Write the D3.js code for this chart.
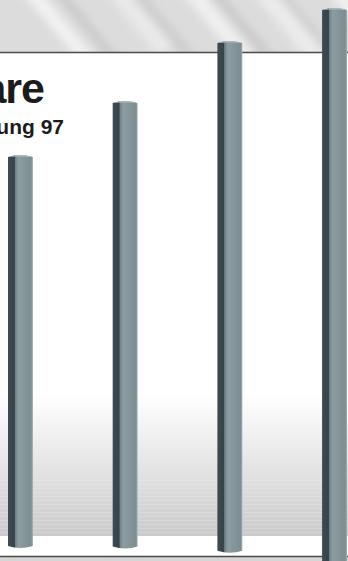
<!DOCTYPE html>
<html lang="de">
<head>
<meta charset="utf-8">
<style>
	body { margin: 0; background: #fff; }
	svg { display: block; }
	text { font-family: "Liberation Sans", Arial, sans-serif; font-weight: bold; fill: #1b1b1b; }
</style>
</head>
<body>
<script src="https://cdnjs.cloudflare.com/ajax/libs/d3/7.8.5/d3.min.js"></script>
<script>
// data (estimates, unit unknown)
var years = ["94", "95", "96", "97"];
var values = [6.55, 7.45, 8.45, 9.0];
var titleText = "Software";
var subText = "Schätzung 97";
var headText = "Umsatz der Branche";

var width = 348, height = 561;
var panelTop = 52, panelBottom = 556;

var svg = d3.select("body").append("svg")
	.attr("width", width)
	.attr("height", height);

var defs = svg.append("defs");

defs.append("filter").attr("id", "soft")
	.attr("x", "-20%").attr("y", "-20%").attr("width", "140%").attr("height", "140%")
	.append("feGaussianBlur").attr("stdDeviation", 4);

var floor = defs.append("linearGradient")
	.attr("id", "floor").attr("x1", 0).attr("y1", 0).attr("x2", 0).attr("y2", 1);
floor.append("stop").attr("offset", "0%").attr("stop-color", "#ffffff");
floor.append("stop").attr("offset", "100%").attr("stop-color", "#cacaca");

var stripes = defs.append("pattern")
	.attr("id", "stripes")
	.attr("patternUnits", "userSpaceOnUse")
	.attr("width", 10).attr("height", 4);
stripes.append("rect").attr("width", 10).attr("height", 1).attr("fill", "#ffffff").attr("opacity", 0.18);

var barGrad = defs.append("linearGradient")
	.attr("id", "bar").attr("x1", 0).attr("y1", 0).attr("x2", 1).attr("y2", 0);
[["0%", "#3e4a51"], ["26%", "#36434a"], ["29%", "#6f8086"], ["42%", "#8c9da2"], ["70%", "#84959a"], ["93%", "#7d8e93"], ["100%", "#a3b0b3"]]
	.forEach(function (s) {
		barGrad.append("stop").attr("offset", s[0]).attr("stop-color", s[1]);
	});

// background: grey brushed metal
svg.append("rect").attr("width", width).attr("height", height).attr("fill", "#dcdcdc");
var streaks = svg.append("g").attr("filter", "url(#soft)");
[[20, -10, 14, "#f2f2f2"], [60, 0, 8, "#c8c8c8"], [95, -20, 18, "#e9e9e9"], [140, 5, 10, "#cccccc"],
 [175, -15, 16, "#efefef"], [215, 0, 9, "#c9c9c9"], [250, -10, 20, "#ebebeb"], [290, 10, 8, "#cdcdcd"],
 [330, -5, 14, "#f0f0f0"], [370, 0, 10, "#cacaca"]]
	.forEach(function (s) {
		streaks.append("rect")
			.attr("x", s[0]).attr("y", s[1] - 40)
			.attr("width", s[2]).attr("height", 140)
			.attr("fill", s[3])
			.attr("transform", "rotate(-40 " + s[0] + " " + s[1] + ")");
	});
svg.append("rect").attr("x", 0).attr("y", panelBottom).attr("width", width).attr("height", height - panelBottom)
	.attr("fill", "#d6d6d6");

// headline, only the foot of the letters reaches into the picture
svg.append("text")
	.attr("x", 40).attr("y", -2)
	.style("font-size", "64px")
	.style("fill", "#222")
	.text(headText);

// white panel
svg.append("rect")
	.attr("x", 0).attr("y", panelTop)
	.attr("width", width).attr("height", panelBottom - panelTop)
	.attr("fill", "#ffffff");

// grey floor band
svg.append("rect")
	.attr("x", 0).attr("y", 395)
	.attr("width", width).attr("height", 141)
	.attr("fill", "url(#floor)");
svg.append("rect")
	.attr("x", 0).attr("y", 480)
	.attr("width", width).attr("height", 56)
	.attr("fill", "url(#stripes)");

svg.append("line")
	.attr("x1", 0).attr("x2", width)
	.attr("y1", panelTop + 0.5).attr("y2", panelTop + 0.5)
	.attr("stroke", "#4a4a4a").attr("stroke-width", 1.5);
svg.append("line")
	.attr("x1", 0).attr("x2", width)
	.attr("y1", panelBottom + 0.5).attr("y2", panelBottom + 0.5)
	.attr("stroke", "#4a4a4a").attr("stroke-width", 1.5);

// title
svg.append("text")
	.attr("x", 44).attr("y", 103)
	.attr("text-anchor", "end")
	.style("font-size", "43px")
	.style("letter-spacing", "-1px")
	.text(titleText);
svg.append("text")
	.attr("x", 64).attr("y", 134)
	.attr("text-anchor", "end")
	.style("font-size", "21px")
	.text(subText);

// scales
var x = d3.scaleBand()
	.domain(years)
	.range([8, 347])
	.paddingInner(0.762)
	.paddingOuter(0);

var y = d3.scaleLinear()
	.domain([0, d3.max(values)])
	.range([548, 8]);

// pillars, bottoms drop a little towards the right (perspective)
function pillar(d, i) {
	var x0 = x(years[i]), w = x.bandwidth();
	var top = y(d), bot = y(0) + Math.pow(i, 3) * 0.6;
	return "M" + x0 + "," + (top + 2) +
		"Q" + (x0 + w / 2) + "," + (top - 2) + " " + (x0 + w) + "," + (top + 2) +
		"L" + (x0 + w) + "," + (bot - 2) +
		"Q" + (x0 + w / 2) + "," + (bot + 2) + " " + x0 + "," + (bot - 2) + "Z";
}

var bars = svg.append("g").attr("class", "bars");

bars.selectAll("path.pillar")
	.data(values)
	.enter()
	.append("path")
	.attr("class", "pillar")
	.attr("d", pillar)
	.attr("fill", "url(#bar)");

// light top caps
bars.selectAll("path.cap")
	.data(values)
	.enter()
	.append("path")
	.attr("class", "cap")
	.attr("d", function (d, i) {
		var x0 = x(years[i]), w = x.bandwidth(), top = y(d);
		return "M" + x0 + "," + (top + 2) +
			"Q" + (x0 + w / 2) + "," + (top - 2) + " " + (x0 + w) + "," + (top + 2) +
			"Q" + (x0 + w / 2) + "," + (top + 1) + " " + x0 + "," + (top + 2) + "Z";
	})
	.attr("fill", "#b4c0c3")
	.attr("opacity", 0.8);
</script>
</body>
</html>
